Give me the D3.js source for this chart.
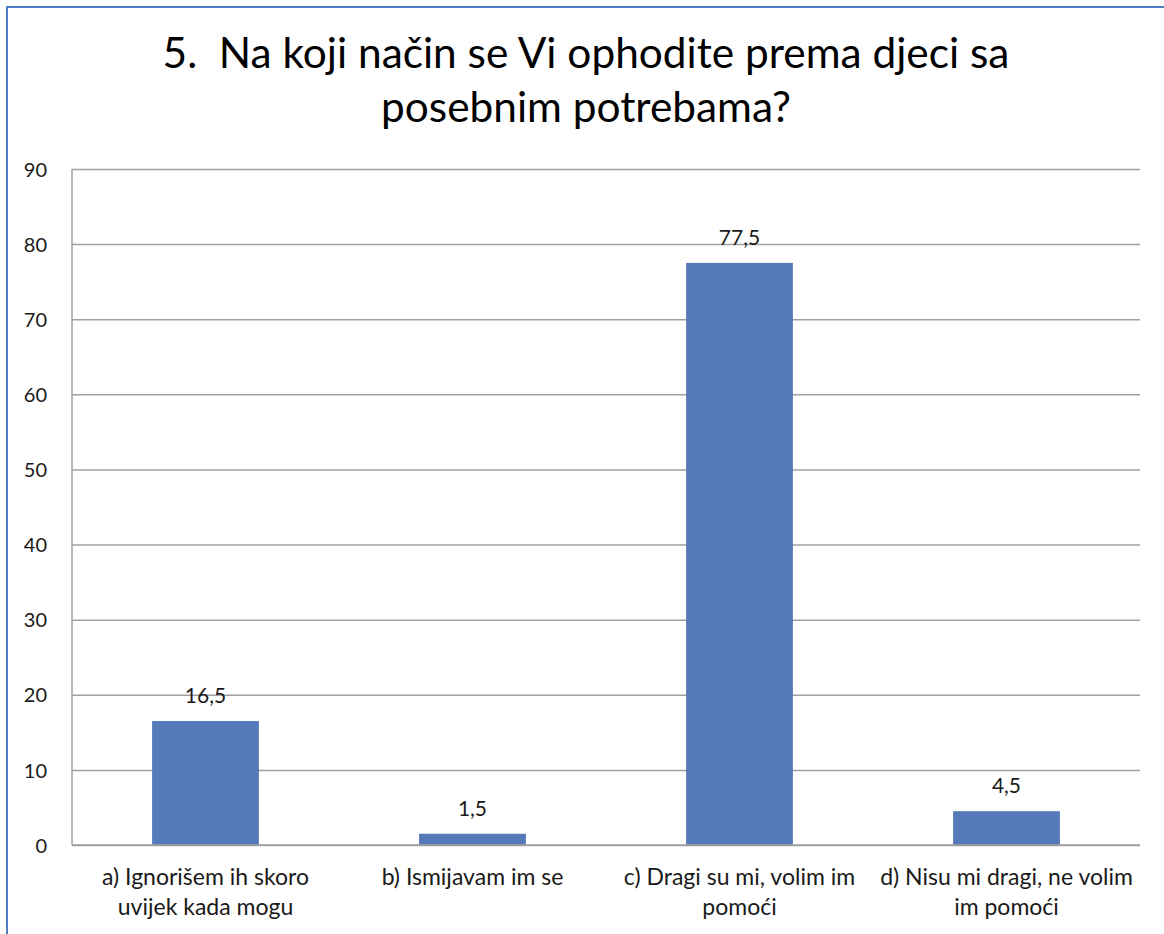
<!DOCTYPE html>
<html>
<head>
<meta charset="utf-8">
<script src="https://cdn.jsdelivr.net/npm/d3@7"></script>
<style>
  html, body { margin: 0; padding: 0; background: #fff; }
  svg { display: block; }
  text { font-family: Lato, "Open Sans", sans-serif; }
</style>
</head>
<body>
<svg id="chart" width="1164" height="934"></svg>
<script>
// ---- data ----
const titleLines = ["5.  Na koji način se Vi ophodite prema djeci sa", "posebnim potrebama?"];
const categories = [
  "a) Ignorišem ih skoro uvijek kada mogu",
  "b) Ismijavam im se",
  "c) Dragi su mi, volim im pomoći",
  "d) Nisu mi dragi, ne volim im pomoći"
];
const values = [16.5, 1.5, 77.5, 4.5];
const valueLabels = ["16,5", "1,5", "77,5", "4,5"];
const yTicks = [0, 10, 20, 30, 40, 50, 60, 70, 80, 90];

// ---- layout ----
const W = 1164, H = 934;
const plot = { left: 72, right: 1140, top: 169, bottom: 845 };
const svg = d3.select("#chart");

// frame
svg.append("rect")
  .attr("x", 7).attr("y", 7)
  .attr("width", W + 20).attr("height", H + 20)
  .attr("fill", "none")
  .attr("stroke", "#4f7fc0")
  .attr("stroke-width", 2);

// title
const title = svg.append("g").attr("class", "title");
const t1 = title.append("text")
  .attr("x", 586).attr("y", 68)
  .attr("text-anchor", "middle")
  .attr("font-size", 40)
  .attr("fill", "#000")
  .style("white-space", "pre")
  .text(titleLines[0]);
const w1 = t1.node().getComputedTextLength();
const titleSize = 40 * 847 / w1;
t1.attr("font-size", titleSize);
title.append("text")
  .attr("x", 586).attr("y", 122)
  .attr("text-anchor", "middle")
  .attr("font-size", titleSize)
  .attr("fill", "#000")
  .text(titleLines[1]);

// scales
const x = d3.scaleBand()
  .domain(categories)
  .range([plot.left, plot.right])
  .paddingInner(0.6)
  .paddingOuter(0.3);
const y = d3.scaleLinear()
  .domain([0, 90])
  .range([plot.bottom, plot.top]);

// gridlines
const grid = svg.append("g")
  .attr("transform", `translate(${plot.left},0)`)
  .call(d3.axisLeft(y).tickValues(yTicks).tickSize(-(plot.right - plot.left)).tickFormat(""));
grid.select(".domain").remove();
grid.selectAll(".tick line").attr("stroke", "#a0a0a0").attr("stroke-width", 1.5);

// y axis line
svg.append("line")
  .attr("x1", plot.left).attr("x2", plot.left)
  .attr("y1", plot.top).attr("y2", plot.bottom)
  .attr("stroke", "#a0a0a0").attr("stroke-width", 1.5);

// y tick labels
const yAxis = svg.append("g")
  .attr("transform", `translate(47,0)`)
  .call(d3.axisLeft(y).tickValues(yTicks).tickSize(0).tickPadding(0));
yAxis.select(".domain").remove();
yAxis.selectAll(".tick text")
  .attr("font-size", 20)
  .attr("font-family", "Lato, 'Open Sans', sans-serif")
  .attr("fill", "#1a1a1a")
  .attr("dy", "0.36em");

// bars
svg.append("g").selectAll("rect")
  .data(values)
  .join("rect")
  .attr("x", (d, i) => x(categories[i]))
  .attr("width", x.bandwidth())
  .attr("y", d => y(d))
  .attr("height", d => y(0) - y(d))
  .attr("fill", "#5579b9");

// baseline on top
svg.append("line")
  .attr("x1", plot.left).attr("x2", plot.right)
  .attr("y1", y(0)).attr("y2", y(0))
  .attr("stroke", "#a0a0a0").attr("stroke-width", 1.5);

// value labels
svg.append("g").selectAll("text")
  .data(values)
  .join("text")
  .attr("x", (d, i) => x(categories[i]) + x.bandwidth() / 2)
  .attr("y", d => y(d) - 18)
  .attr("text-anchor", "middle")
  .attr("font-size", 21)
  .attr("fill", "#1a1a1a")
  .text((d, i) => valueLabels[i]);

// category labels (wrapped to band step)
const xAxis = svg.append("g")
  .attr("transform", `translate(0,${plot.bottom})`)
  .call(d3.axisBottom(x).tickSize(0).tickPadding(0).tickFormat(""));
xAxis.select(".domain").remove();

// fit category font so first line width resembles reference
const probe = svg.append("text").attr("font-size", 20).text("a) Ignorišem ih skoro");
const catSize = Math.min(23, 20 * 214 / probe.node().getComputedTextLength());
probe.remove();

const maxW = x.step() - 3;
xAxis.selectAll(".tick").each(function(cat) {
  const g = d3.select(this);
  const txt = g.append("text")
    .attr("text-anchor", "middle")
    .attr("font-size", catSize)
    .attr("fill", "#1a1a1a")
    .attr("y", 40);
  const words = cat.split(" ");
  let line = [];
  let tspan = txt.append("tspan").attr("x", 0).attr("dy", 0);
  for (const w of words) {
    line.push(w);
    tspan.text(line.join(" "));
    if (tspan.node().getComputedTextLength() > maxW && line.length > 1) {
      line.pop();
      tspan.text(line.join(" "));
      line = [w];
      tspan = txt.append("tspan").attr("x", 0).attr("dy", 30).text(w);
    }
  }
});
</script>
</body>
</html>
